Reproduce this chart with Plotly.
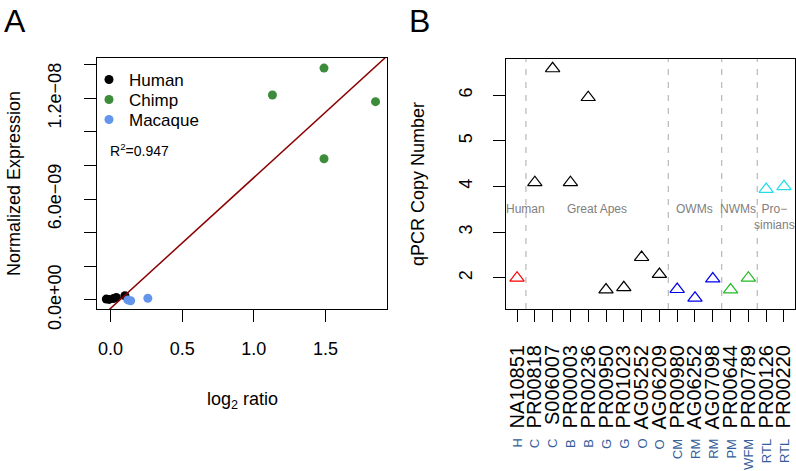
import plotly.graph_objects as go

# ---- panel A data ----
human_x = [-0.03, -0.01, 0.02, 0.04, 0.10]
human_y = [0.05e-9, 0.03e-9, 0.08e-9, 0.15e-9, 0.25e-9]
chimp_x = [1.13, 1.49, 1.85, 1.49]
chimp_y = [12.2e-9, 13.8e-9, 11.8e-9, 8.4e-9]
macaque_x = [0.12, 0.14, 0.26]
macaque_y = [0.0, -0.05e-9, 0.1e-9]
fit_slope = 7.78e-9
fit_intercept = -0.5e-9
r_squared = 0.947

a_ytickvals = [0, 2e-9, 4e-9, 6e-9, 8e-9, 1e-8, 1.2e-8, 1.4e-8]
a_yticktext = ["0.0e+00", "", "", "6.0e\u221209", "", "", "1.2e\u221208", ""]

# ---- panel B data ----
samples = ["NA10851", "PR00818", "S006007", "PR00003", "PR00236", "PR00950",
           "PR01023", "AG05252", "AG06209", "PR00980", "AG06252", "AG07098",
           "PR00644", "PR00789", "PR00126", "PR00220"]
species = ["H", "C", "C", "B", "B", "G", "G", "O", "O", "CM", "RM", "RM",
           "PM", "WFM", "RTL", "RTL"]
copy_number = [2.0, 4.09, 6.58, 4.09, 5.95, 1.74, 1.79, 2.45, 2.08, 1.75,
               1.56, 1.98, 1.74, 2.0, 3.94, 4.0]
point_colors = ["#ff0000"] + ["#000000"] * 8 + ["#0000ee"] * 3 + ["#22bb22"] * 2 + ["#22ddee"] * 2
group_bounds = [1.5, 9.5, 12.5, 14.5]
group_labels = ["Human", "Great Apes", "OWMs", "NWMs", "Pro\u2212<br>simians"]
group_label_x = [1.5, 5.5, 11.0, 13.4, 15.45]
group_label_y = [3.5, 3.5, 3.5, 3.5, 3.33]

FONT = "Liberation Sans, Arial, sans-serif"
W, H = 796, 471

fig = go.Figure()

fig.add_trace(go.Scatter(x=human_x, y=human_y, mode="markers", name="Human",
                         marker=dict(color="black", size=9), legend="legend"))
fig.add_trace(go.Scatter(x=chimp_x, y=chimp_y, mode="markers", name="Chimp",
                         marker=dict(color="#3c8c3c", size=9), legend="legend2"))
fig.add_trace(go.Scatter(x=macaque_x, y=macaque_y, mode="markers", name="Macaque",
                         marker=dict(color="#6495ed", size=9), legend="legend3"))

xa_range = [-0.095, 1.93]
fig.add_trace(go.Scatter(x=xa_range, y=[fit_intercept + fit_slope * v for v in xa_range],
                         mode="lines", line=dict(color="#8b0000", width=1.5),
                         showlegend=False))

fig.add_trace(go.Scatter(x=list(range(1, len(samples) + 1)), y=copy_number, mode="markers",
                         marker=dict(symbol="triangle-up-open", size=12.5, color=point_colors,
                                     line=dict(width=1.2)),
                         showlegend=False, xaxis="x2", yaxis="y2"))

axis_common = dict(showline=True, mirror=True, linecolor="black", linewidth=1,
                   ticks="outside", ticklen=12, tickcolor="black", showgrid=False,
                   zeroline=False, automargin=False,
                   tickfont=dict(family=FONT, size=18, color="black"))

leg_common = dict(xanchor="left", yanchor="middle", bgcolor="rgba(0,0,0,0)",
                  font=dict(family=FONT, size=17), x=89 / W)

fig.update_layout(
    template="none",
    width=W, height=H, margin=dict(l=0, r=0, t=0, b=0, pad=0),
    paper_bgcolor="white", plot_bgcolor="white",
    font=dict(family=FONT, color="black"),
    xaxis=dict(domain=[97 / W, 387 / W], anchor="y", range=xa_range,
               tickvals=[0, 0.5, 1.0, 1.5], ticktext=["0.0", "0.5", "1.0", "1.5"],
               ticklabelstandoff=11, **axis_common),
    yaxis=dict(domain=[1 - 309 / H, 1 - 58 / H], anchor="x", range=[-0.54e-9, 14.4e-9],
               tickvals=a_ytickvals, ticktext=a_yticktext, tickangle=-90,
               ticklabelstandoff=16, **axis_common),
    xaxis2=dict(domain=[506 / W, 795 / W], anchor="y2", range=[0.38, 16.62],
                tickvals=list(range(1, len(samples) + 1)), ticktext=samples,
                tickangle=-90, ticklabelstandoff=15,
                **{**axis_common, "tickfont": dict(family=FONT, size=20, color="black")}),
    yaxis2=dict(domain=[1 - 309 / H, 1 - 59 / H], anchor="x2", range=[1.32, 6.79],
                tickvals=[2, 3, 4, 5, 6], tickangle=-90, ticklabelstandoff=14,
                **axis_common),
    legend=dict(y=1 - 80 / H, **leg_common),
    legend2=dict(y=1 - 100 / H, **leg_common),
    legend3=dict(y=1 - 120 / H, **leg_common),
    showlegend=True,
)

for xb in group_bounds:
    fig.add_shape(type="line", xref="x2", yref="y2 domain", x0=xb, x1=xb, y0=0, y1=1,
                  line=dict(color="#b8b8b8", width=1.2, dash="6px,7px"))

ann = []


def label(text, x, y, size, xanchor="center", yanchor="middle", angle=0, color="black",
          xref="paper", yref="paper"):
    ann.append(dict(text=text, x=x, y=y, xref=xref, yref=yref, xanchor=xanchor,
                    yanchor=yanchor, textangle=angle, showarrow=False,
                    font=dict(size=size, color=color)))


label("A", 2 / W, 1 - 21 / H, 32, xanchor="left")
label("B", 407 / W, 1 - 21 / H, 32, xanchor="left")
label("Normalized Expression", 14 / W, 1 - 184 / H, 18, angle=-90)
label("log<sub>2</sub> ratio", 242 / W, 1 - 400 / H, 18)
label("qPCR Copy Number", 418 / W, 1 - 184 / H, 18, angle=-90)
label("R<sup>2</sup>=%.3f" % r_squared, 108 / W, 1 - 150 / H, 14, xanchor="left")
for i, code in enumerate(species):
    label(code, i + 1, 1 - 437 / H, 13, yanchor="top", angle=-90, color="#365e9a",
          xref="x2")
for lab, gx, gy in zip(group_labels, group_label_x, group_label_y):
    label(lab, gx, gy, 12, color="#808080", xref="x2", yref="y2")
fig.update_layout(annotations=ann)

fig.write_html("out.html", config={"displayModeBar": False},
               post_script="document.body.style.margin='0';")
